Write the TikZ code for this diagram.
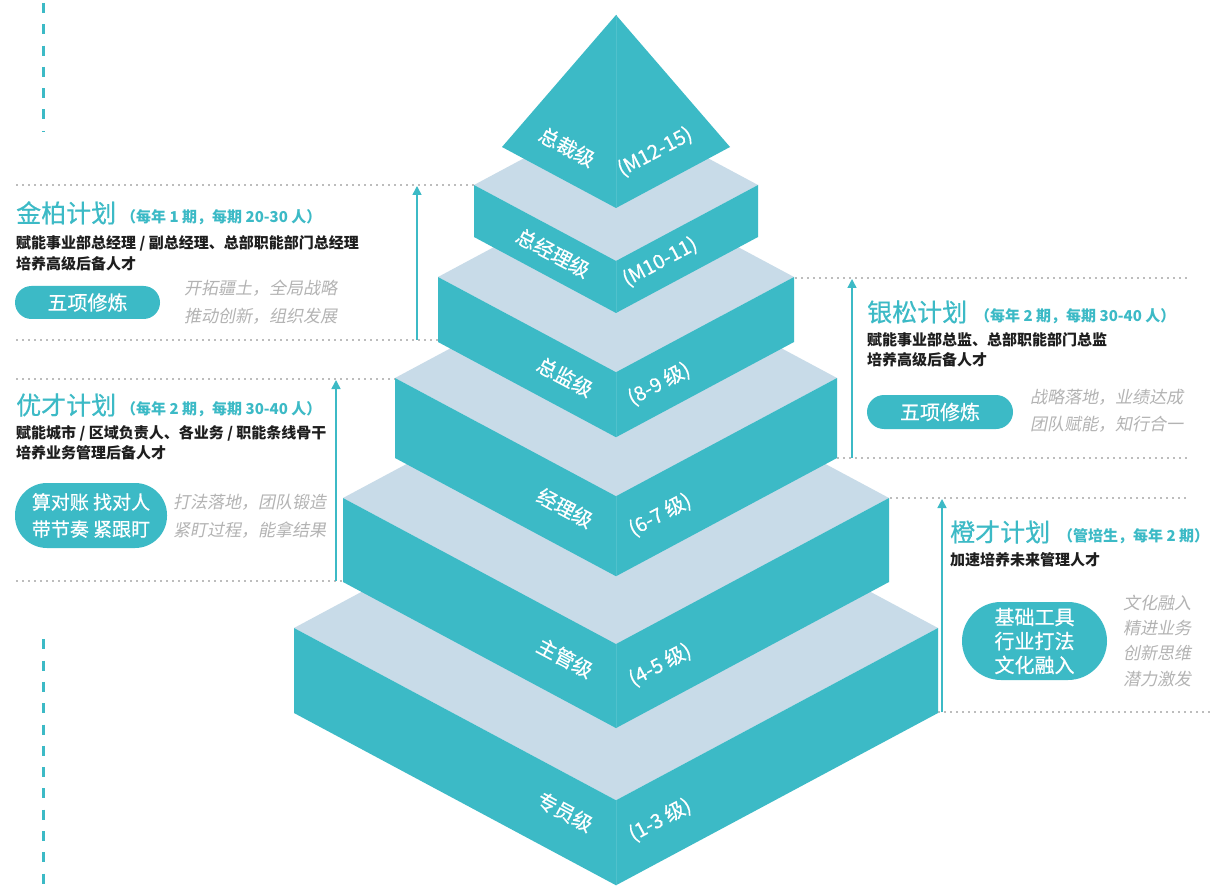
\documentclass[tikz,border=0pt]{standalone}
\usepackage{fontspec}
\setmainfont{Noto Sans CJK SC}
\newfontfamily\slantfont{Noto Sans CJK SC}[FakeSlant=0.2]
\newfontfamily\medfont{Noto Sans CJK SC}[FakeBold=0.5]
\usetikzlibrary{arrows.meta}
\definecolor{tealc}{HTML}{3CBAC6}
\definecolor{topface}{HTML}{C8DBE8}
\definecolor{grayt}{HTML}{B3B3B3}
\definecolor{dotg}{HTML}{BDBDBD}
\definecolor{blk}{HTML}{1E1E1E}
\newcommand\myfs[1]{\fontsize{#1}{#1}\selectfont}
\newcommand\mylayer[4]{%
  \pgfmathsetmacro\lyd{0.535*#2}%
  \fill[topface] (#1-#2,#3) -- (#1,#3-\lyd) -- (#1+#2,#3) -- (#1,#3+\lyd) -- cycle;
  \fill[tealc] (#1-#2,#3) -- (#1,#3+\lyd) -- (#1,#3+\lyd+#4) -- (#1-#2,#3+#4) -- cycle;
  \fill[tealc] (#1+#2,#3) -- (#1,#3+\lyd) -- (#1,#3+\lyd+#4) -- (#1+#2,#3+#4) -- cycle;
  \draw[seam] (#1,#3+\lyd) -- (#1,#3+\lyd+#4);
}
\begin{document}
\begin{tikzpicture}[x=1pt,y=-1pt,
  seam/.style={draw=tealc!90!white,line width=0.4pt},
  lvl/.style={text=white,font=\medfont\myfs{20},inner sep=0pt},
  ttl/.style={text=tealc,font=\medfont\myfs{25},anchor=base west,inner sep=0pt},
  sub/.style={text=tealc,font=\bfseries\myfs{15},anchor=base west,inner sep=0pt},
  desc/.style={text=blk,font=\bfseries\myfs{15},anchor=base west,inner sep=0pt},
  gr/.style={text=grayt,font=\slantfont\myfs{17},anchor=base west,inner sep=0pt},
  pill/.style={fill=tealc,text=white,font=\medfont\myfs{20},inner sep=0pt,align=center},
  dotl/.style={draw=dotg,line width=1.5pt,dash pattern=on 1.5pt off 4.5pt},
  upar/.style={draw=tealc,line width=1.5pt,-{Triangle[width=9pt,length=9pt]}},
  vdash/.style={draw=tealc,line width=3pt,dash pattern=on 10pt off 11.3pt}]
\useasboundingbox (0,0) rectangle (1215,890);
\fill[white] (0,0) rectangle (1215,890);

% left dashed decoration
\coordinate (va) at (43,3); \coordinate (vb) at (43,132);
\coordinate (vc) at (43,633); \coordinate (vd) at (43,890);
\draw[vdash] (va) -- (vb);
\draw[vdash,dash phase=15pt] (vc) -- (vd);

% dotted guide lines
\coordinate (a1) at (16,185); \coordinate (a2) at (474,185);
\coordinate (b1) at (16,340); \coordinate (b2) at (438,340);
\coordinate (c1) at (16,379); \coordinate (c2) at (395,379);
\coordinate (e1) at (16,581); \coordinate (e2) at (343,581);
\coordinate (f1) at (795,278); \coordinate (f2) at (1188,278);
\coordinate (g1) at (837,458); \coordinate (g2) at (1190,458);
\coordinate (h1) at (890,498); \coordinate (h2) at (1188,498);
\coordinate (k1) at (938,712); \coordinate (k2) at (1210,712);
\foreach \p/\q in {a1/a2,b1/b2,c1/c2,e1/e2,f1/f2,g1/g2,h1/h2,k1/k2}
  \draw[dotl] (\p) -- (\q);

% arrows
\coordinate (ar1s) at (417,340); \coordinate (ar1e) at (417,186);
\coordinate (ar2s) at (336,581); \coordinate (ar2e) at (336,380);
\coordinate (ar3s) at (852,458); \coordinate (ar3e) at (852,279);
\coordinate (ar4s) at (942,712); \coordinate (ar4e) at (942,499);
\draw[upar] (ar1s) -- (ar1e);
\draw[upar] (ar2s) -- (ar2e);
\draw[upar] (ar3s) -- (ar3e);
\draw[upar] (ar4s) -- (ar4e);

% pyramid layers
\mylayer{616}{322}{628}{85}
\mylayer{616}{273}{498}{84}
\mylayer{616}{221}{378}{80}
\mylayer{616}{178}{277}{65}
\mylayer{616}{142}{185}{52}
\fill[tealc] (616,15) -- (502,147) -- (616,208) -- cycle;
\fill[tealc] (616,15) -- (730,147) -- (616,208) -- cycle;
\draw[seam] (616,15) -- (616,208);

% level labels
\node[lvl,rotate=-28] (n1) at (567,147) {总裁级};
\node[lvl,rotate=28] (m1) at (655,152) {(M12-15)};
\node[lvl,rotate=-28] (n2) at (553,253) {总经理级};
\node[lvl,rotate=28] (m2) at (660,262) {(M10-11)};
\node[lvl,rotate=-28] (n3) at (565,377) {总监级};
\node[lvl,rotate=28] (m3) at (659,384) {(8-9 级)};
\node[lvl,rotate=-28] (n4) at (565,508) {经理级};
\node[lvl,rotate=28] (m4) at (660,515) {(6-7 级)};
\node[lvl,rotate=-28] (n5) at (565,658) {主管级};
\node[lvl,rotate=28] (m5) at (660,665) {(4-5 级)};
\node[lvl,rotate=-28] (n6) at (565,812) {专员级};
\node[lvl,rotate=28] (m6) at (660,820) {(1-3 级)};

% 金柏计划
\node[ttl] (t1) at (16,222.5) {金柏计划};
\node[sub] (s1) at (121,222.5) {（每年 1 期，每期 20-30 人）};
\node[desc] (d1a) at (16,248.5) {赋能事业部总经理 / 副总经理、总部职能部门总经理};
\node[desc] (d1b) at (16,269.5) {培养高级后备人才};
\node[pill,minimum width=145pt,minimum height=33pt,rounded corners=16.5pt] (p1) at (87.5,302.5) {五项修炼};
\node[gr] (g1a) at (184,294.5) {开拓疆土，全局战略};
\node[gr] (g1b) at (184,322.5) {推动创新，组织发展};

% 优才计划
\node[ttl] (t2) at (16,414.5) {优才计划};
\node[sub] (s2) at (121,414.5) {（每年 2 期，每期 30-40 人）};
\node[desc] (d2a) at (16,438.7) {赋能城市 / 区域负责人、各业务 / 职能条线骨干};
\node[desc] (d2b) at (16,458.7) {培养业务管理后备人才};
\node[pill,minimum width=152pt,minimum height=65pt,rounded corners=32pt,font=\medfont\fontsize{19}{27}\selectfont] (p2) at (91,515.5) {算对账 找对人\\带节奏 紧跟盯};
\node[gr] (g2a) at (173,508) {打法落地，团队锻造};
\node[gr] (g2b) at (173,536) {紧盯过程，能拿结果};

% 银松计划
\node[ttl] (t3) at (867,321.5) {银松计划};
\node[sub] (s3) at (975,321.5) {（每年 2 期，每期 30-40 人）};
\node[desc] (d3a) at (867,345.7) {赋能事业部总监、总部职能部门总监};
\node[desc] (d3b) at (867,365.7) {培养高级后备人才};
\node[pill,minimum width=146pt,minimum height=34pt,rounded corners=17pt] (p3) at (940,412) {五项修炼};
\node[gr] (g3a) at (1030,403.5) {战略落地，业绩达成};
\node[gr] (g3b) at (1030,430.5) {团队赋能，知行合一};

% 橙才计划
\node[ttl] (t4) at (950,541.5) {橙才计划};
\node[sub] (s4) at (1058,541.5) {（管培生，每年 2 期）};
\node[desc] (d4) at (950,565.7) {加速培养未来管理人才};
\node[pill,minimum width=145pt,minimum height=78pt,rounded corners=39pt,font=\medfont\fontsize{20}{24}\selectfont] (p4) at (1034.5,641) {基础工具\\行业打法\\文化融入};
\node[gr] (g4a) at (1123,609.5) {文化融入};
\node[gr] (g4b) at (1123,634.5) {精进业务};
\node[gr] (g4c) at (1123,659.5) {创新思维};
\node[gr] (g4d) at (1123,685.5) {潜力激发};
\end{tikzpicture}
\end{document}
